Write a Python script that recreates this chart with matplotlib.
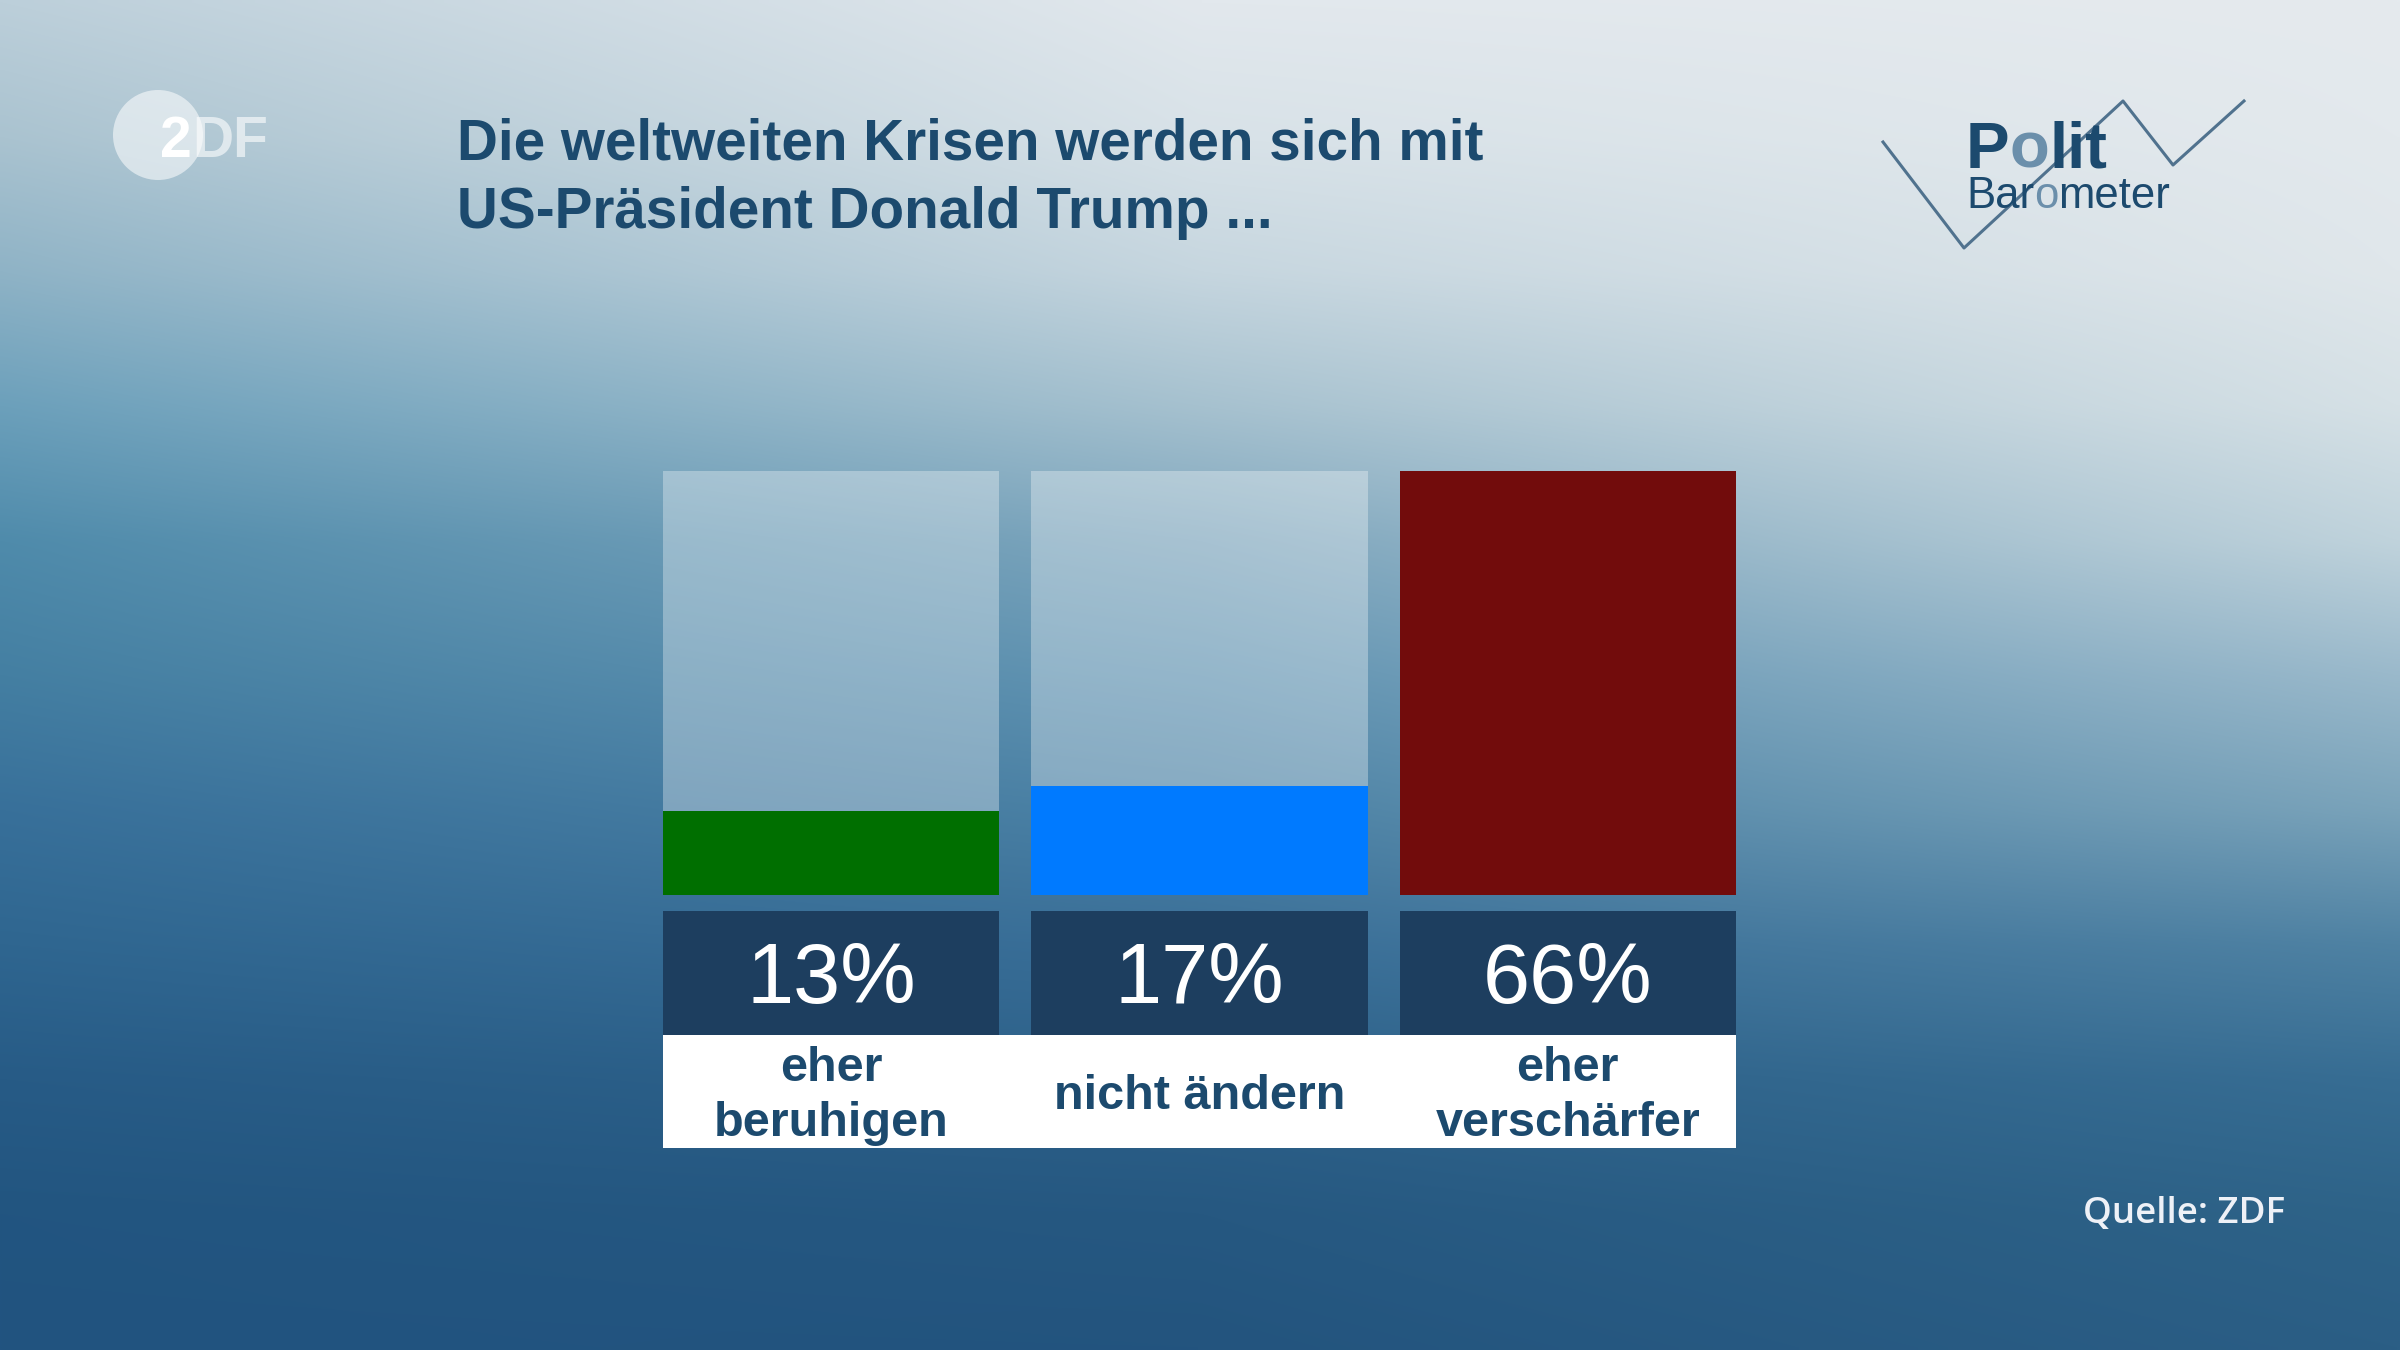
import numpy as np
import matplotlib
matplotlib.use('Agg')
import matplotlib.pyplot as plt
from matplotlib.colors import to_rgb
from matplotlib.patches import Circle

plt.rcParams['font.family'] = ['Liberation Sans', 'DejaVu Sans']

# chart content
title_lines = ['Die weltweiten Krisen werden sich mit',
               'US-Präsident Donald Trump ...']
categories = ['eher\nberuhigen', 'nicht ändern', 'eher\nverschärfer']
values = [13, 17, 66]
bar_colors = ['#006f00', '#007aff', '#720c0c']
source = 'Quelle: ZDF'

# background gradient, sampled at left / centre / right edge, top to bottom
bg_left = ['#bccfda', '#aac3d0', '#8fb3c6', '#6ca0bb', '#4f8bab', '#447fa2',
           '#38709a', '#2f6690', '#275b86', '#225580', '#215380']
bg_center = ['#e2e8ed', '#d8e2e8', '#c6d6df', '#a6c1cf', '#7ea6bd', '#6294b2',
             '#4c82a5', '#3a6f98', '#2d6189', '#265881', '#23547e']
bg_right = ['#e5eaee', '#e3e9ed', '#e0e7eb', '#d6e1e6', '#c0d3dc', '#9ab9cb',
            '#7aa3ba', '#4f82a3', '#376d93', '#2e6388', '#2b5e85']

DARK = '#1c4a6e'
BOX = '#1d3e5f'
W, H = 2400, 1350


def _gradient(width=480, height=270):
    rows = np.linspace(0, 1, len(bg_left))
    ys = np.linspace(0, 1, height)
    cols = []
    for c in [bg_left, bg_center, bg_right]:
        rgb = np.array([to_rgb(v) for v in c])
        cols.append(np.stack(
            [np.interp(ys, rows, rgb[:, k]) for k in range(3)], axis=1))
    cols = np.stack(cols, axis=1)
    xs = np.linspace(0, 1, width)
    img = np.empty((height, width, 3))
    for j in range(height):
        for k in range(3):
            img[j, :, k] = np.interp(xs, [0, 0.5, 1], cols[j, :, k])
    return img


def px_axes(fig, x0, y0, x1, y1):
    # axes placed with pixel edges measured from the top-left corner
    return fig.add_axes([x0 / W, 1 - y1 / H, (x1 - x0) / W, (y1 - y0) / H])


fig = plt.figure(figsize=(24, 13.5), dpi=100)

# background
bg = px_axes(fig, 0, 0, W, H)
bg.imshow(_gradient(), extent=(0, W, H, 0), aspect='auto',
          interpolation='bilinear')
bg.axis('off')

x = np.arange(len(values))
w = 0.913
top = max(values)
xlim = (-w / 2, len(values) - 1 + w / 2)

# bars with translucent tracks
ax = px_axes(fig, 663, 471, 1736, 895)
ax.bar(x, [top] * len(values), width=w, color='white', alpha=0.32,
       linewidth=0)
ax.bar(x, values, width=w, color=bar_colors, linewidth=0)
ax.set_xlim(*xlim)
ax.set_ylim(0, top)
ax.axis('off')

# percentage boxes
axp = px_axes(fig, 663, 911, 1736, 1035)
axp.bar(x, [1] * len(values), width=w, color=BOX, linewidth=0)
for xi, v in zip(x, values):
    axp.text(xi, 0.26, f'{v}%', ha='center', va='baseline',
             fontsize=61, color='white')
axp.set_xlim(*xlim)
axp.set_ylim(0, 1)
axp.axis('off')

# category labels on a white strip
axl = px_axes(fig, 663, 1035, 1736, 1148)
axl.set_facecolor('white')
for xi, lab in zip(x, categories):
    axl.text(xi, 0.46, lab, ha='center', va='center', fontsize=35,
             fontweight='bold', color=DARK, linespacing=1.3)
axl.set_xlim(*xlim)
axl.set_ylim(0, 1)
axl.set_xticks([])
axl.set_yticks([])
for s in axl.spines.values():
    s.set_visible(False)

# overlay in pixel coordinates for title, logos and source
ov = px_axes(fig, 0, 0, W, H)
ov.set_xlim(0, W)
ov.set_ylim(H, 0)
ov.axis('off')

for i, line in enumerate(title_lines):
    ov.text(457, 160 + 68 * i, line, fontsize=40.8, fontweight='bold',
            color=DARK, va='baseline')

# ZDF logo
ov.add_patch(Circle((158, 135), 45, color='white', alpha=0.55, lw=0))
t = ov.text(160, 157, '2', fontsize=41, fontweight='bold', color='white',
            va='baseline')
ov.annotate('DF', xy=(1, 0), xycoords=t, va='bottom', ha='left',
            fontsize=41, fontweight='bold', color='white', alpha=0.6)

# Politbarometer logo
ov.plot([1883, 1964, 2123, 2173, 2244], [142, 248, 101, 165, 101],
        color='#50728e', lw=2.2)
light = '#6b8fab'
prev = ov.text(1966, 168, 'P', fontsize=47, fontweight='bold', color=DARK,
               va='baseline')
for part, col in [('o', light), ('lit', DARK)]:
    prev = ov.annotate(part, xy=(1, 0), xycoords=prev, va='bottom',
                       ha='left', fontsize=47, fontweight='bold', color=col)
prev = ov.text(1966, 208, 'Bar', fontsize=31.5, color=DARK, va='baseline')
for part, col in [('o', light), ('meter', DARK)]:
    prev = ov.annotate(part, xy=(1, 0), xycoords=prev, va='bottom',
                       ha='left', fontsize=31.5, color=col)

ov.text(2285, 1214, source, ha='right', va='center', fontsize=26.5,
        fontweight='semibold', color='#eef1f7',
        family=['Open Sans', 'DejaVu Sans'])

fig.savefig('out.png', dpi=100)
